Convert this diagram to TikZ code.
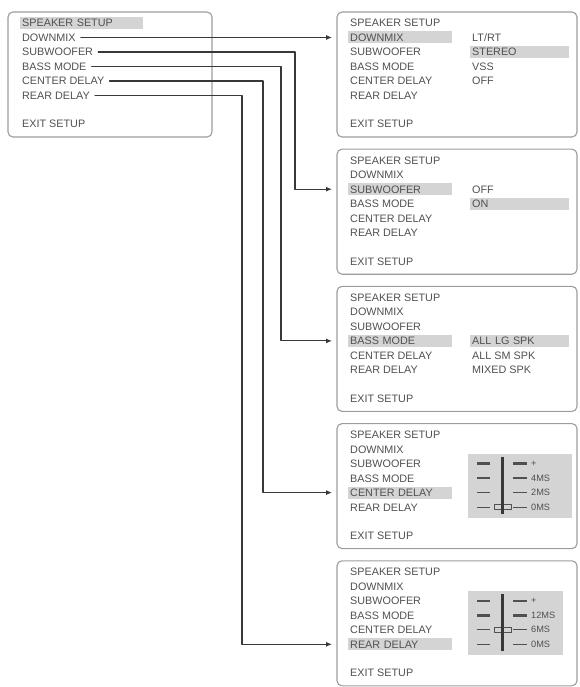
\documentclass[tikz,border=0pt]{standalone}
\usepackage{fontspec}
\setmainfont{Liberation Sans}
\usetikzlibrary{arrows.meta}
\definecolor{txtgray}{HTML}{505050}
\definecolor{framegray}{HTML}{9C9C9C}
\definecolor{hlgray}{HTML}{D4D4D4}
\definecolor{linkgray}{HTML}{383838}
\begin{document}
\begin{tikzpicture}[x=1pt,y=-1pt,line join=round,line cap=round,font=\fontsize{10.8}{13}\selectfont,
		frame/.style={draw=framegray,line width=1.1pt,rounded corners=5pt},
		item/.style={anchor=west,inner xsep=2pt,inner ysep=0pt,minimum height=12pt,text height=7.8pt,text depth=0pt,text=txtgray},
		hl/.style={fill=hlgray,text width=#1,align=left},
		cur/.style={},
		link/.style={draw=linkgray,line width=1.1pt,shorten <=3pt},
		tip/.style={-{Latex[length=6pt,width=5pt]},shorten >=16pt},
		ticklabel/.style={font=\fontsize{9.2}{10}\selectfont,anchor=west,inner sep=0pt,text=txtgray}]
	\useasboundingbox (0,0) rectangle (579,687);
	% main menu
	\draw[frame] (8,12) rectangle (212,137);
	\node[item,hl=119pt] (m0) at (20,23) {SPEAKER SETUP};
	\foreach \t [count=\i] in {DOWNMIX,SUBWOOFER,BASS MODE,CENTER DELAY,REAR DELAY}
		\node[item] (m\i) at (20,23+14.5*\i) {\t};
	\node[item] (m6) at (20,124) {EXIT SETUP};
	% sub menus
	\foreach \k in {1,...,5}{
		\pgfmathsetmacro\T{12+137.2*(\k-1)}
		\draw[frame] (337,\T) rectangle (577,\T+125);
		\node[item] (b\k-0) at (348,\T+11) {SPEAKER SETUP};
		\foreach \t [count=\i] in {DOWNMIX,SUBWOOFER,BASS MODE,CENTER DELAY,REAR DELAY}{
			\ifnum\i=\k \tikzset{cur/.style={hl=100pt}}\else\tikzset{cur/.style={}}\fi
			\node[item,cur] (b\k-\i) at (348,\T+11+14.5*\i) {\t};
		}
		\node[item] (b\k-6) at (348,\T+112) {EXIT SETUP};
	}
	% options
	\node[item] (o1-1) at (470,37.5) {LT/RT};
	\node[item,hl=95pt] (o1-2) at (470,52) {STEREO};
	\node[item] (o1-3) at (470,66.5) {VSS};
	\node[item] (o1-4) at (470,81) {OFF};
	\node[item] (o2-2) at (470,189.2) {OFF};
	\node[item,hl=95pt] (o2-3) at (470,203.7) {ON};
	\node[item,hl=95pt] (o3-3) at (470,340.9) {ALL LG SPK};
	\node[item] (o3-4) at (470,355.4) {ALL SM SPK};
	\node[item] (o3-5) at (470,369.9) {MIXED SPK};
	% delay sliders
	\foreach \k/\r/\w/\labs in {4/5/572/{+,4MS,2MS,0MS},5/4/563/{+,12MS,6MS,0MS}}{
		\pgfmathsetmacro\T{12+137.2*(\k-1)}
		\fill[hlgray] (468,\T+30) rectangle (\w,\T+94);
		\foreach \l [count=\j from 2] in \labs{
			\pgfmathsetmacro\lw{\j<4 ? 2.4 : 1.2}
			\draw[txtgray,line width=\lw pt,line cap=butt] (477,\T+11+14.5*\j) -- (490,\T+11+14.5*\j);
			\draw[txtgray,line width=\lw pt,line cap=butt] (513,\T+11+14.5*\j) -- (527,\T+11+14.5*\j);
			\node[ticklabel] (s\k-\j) at (531,\T+11+14.5*\j) {\l};
		}
		\draw[fill=hlgray,draw=txtgray,line width=0.8pt] (494,\T+8.5+14.5*\r) rectangle (511,\T+13.5+14.5*\r);
		\draw[linkgray,line width=3pt,line cap=butt] (502,\T+33) -- (502,\T+90);
	}
	% connectors
	\coordinate (c1) at (295,0);
	\coordinate (c2) at (281,0);
	\coordinate (c3) at (263,0);
	\coordinate (c4) at (242,0);
	\draw[link,tip] (m1.east) -- (b1-1.west);
	\draw[link,tip] (m2.east) -| (c1 |- b2-2.west) -- (b2-2.west);
	\draw[link,tip] (m3.east) -| (c2 |- b3-3.west) -- (b3-3.west);
	\draw[link,tip] (m4.east) -| (c3 |- b4-4.west) -- (b4-4.west);
	\draw[link,tip] (m5.east) -| (c4 |- b5-5.west) -- (b5-5.west);
\end{tikzpicture}
\end{document}
